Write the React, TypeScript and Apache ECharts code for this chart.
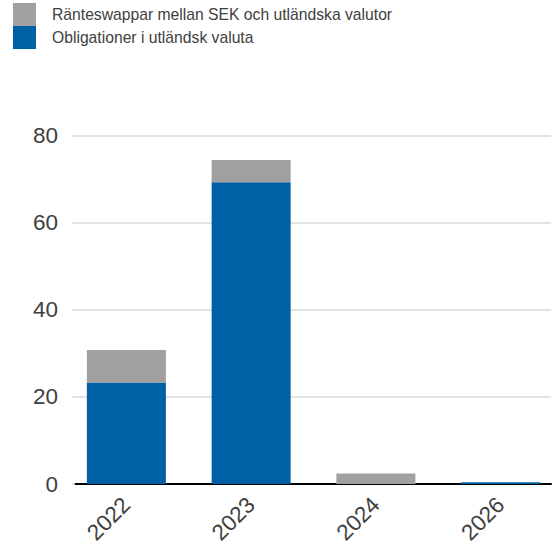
import React, { useEffect, useRef } from "react";
import * as echarts from "echarts";

const years = ["2022", "2023", "2024", "2026"];
const obligationer = [23.3, 69.3, 0, 0.4];
const rantesswappar = [7.5, 5.1, 2.4, 0];
const yMax = 80;
const yStep = 20;

const BLUE = "#0060a6";
const GRAY = "#a0a0a0";
const TEXT = "#404040";
const FONT = "Liberation Sans, Arial, sans-serif";

export default function App() {
  const ref = useRef<HTMLDivElement>(null);
  useEffect(() => {
    if (!ref.current) return;
    const chart = echarts.init(ref.current, undefined, { renderer: "svg" });
    const top = 135.7;
    const bottom = 65;
    chart.setOption({
      animation: false,
      textStyle: { fontFamily: FONT },
      legend: {
        orient: "vertical",
        left: 13,
        top: 3,
        padding: 0,
        itemWidth: 23,
        itemHeight: 23,
        itemGap: 0,
        icon: "rect",
        data: ["Ränteswappar mellan SEK och utländska valutor", "Obligationer i utländsk valuta"],
        textStyle: { fontFamily: FONT, fontSize: 15.7, color: TEXT, padding: [0, 0, 0, 11] },
      },
      grid: [
        { left: 75, right: 6, top, bottom, containLabel: false },
        { left: 64, width: 499, top, bottom, containLabel: false, outerBoundsMode: "none" },
      ],
      xAxis: [
        {
          type: "value",
          gridIndex: 0,
          min: 0,
          max: 1,
          splitLine: { show: false },
          axisTick: { show: false },
          axisLabel: { show: false },
          axisLine: { show: true, lineStyle: { color: "#000", width: 2 } },
        },
        {
          type: "category",
          gridIndex: 1,
          data: years,
          axisLine: { show: false },
          axisTick: { show: false },
          splitLine: { show: false },
          axisLabel: {
            rotate: 45,
            margin: 17,
            fontSize: 22.5,
            color: TEXT,
            fontFamily: FONT,
          },
        },
      ],
      yAxis: [
        {
          type: "value",
          gridIndex: 0,
          min: 0,
          max: yMax,
          interval: yStep,
          axisLine: { show: false },
          axisTick: { show: true, length: 3, lineStyle: { color: "#d9d9d9", width: 1.5 } },
          splitLine: { lineStyle: { color: "#d9d9d9", width: 1.5 } },
          axisLabel: {
            margin: 17,
            fontSize: 22.5,
            color: TEXT,
            fontFamily: FONT,
          },
        },
        {
          type: "value",
          gridIndex: 1,
          min: 0,
          max: yMax,
          interval: yStep,
          show: false,
        },
      ],
      series: [
        {
          name: "Obligationer i utländsk valuta",
          type: "bar",
          stack: "total",
          xAxisIndex: 1,
          yAxisIndex: 1,
          barWidth: 79,
          itemStyle: { color: BLUE },
          data: obligationer,
        },
        {
          name: "Ränteswappar mellan SEK och utländska valutor",
          type: "bar",
          stack: "total",
          xAxisIndex: 1,
          yAxisIndex: 1,
          barWidth: 79,
          itemStyle: { color: GRAY },
          data: rantesswappar,
        },
      ],
    });
    return () => chart.dispose();
  }, []);
  return <div ref={ref} style={{ width: 557, height: 549, position: "absolute", left: 0, top: 0 }} />;
}
